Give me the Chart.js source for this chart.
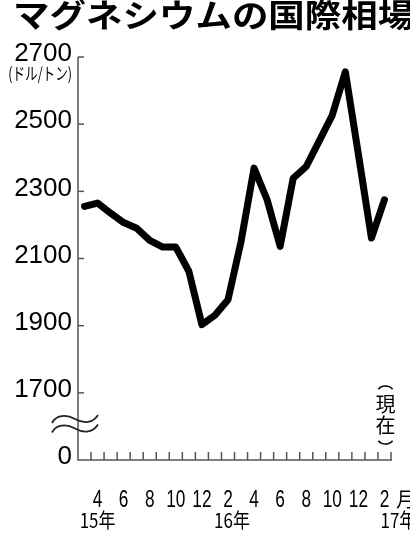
<!DOCTYPE html>
<html>
<head>
<meta charset="utf-8">
<script src="https://cdn.jsdelivr.net/npm/chart.js@4/dist/chart.umd.min.js"></script>
<style>
  html, body { margin: 0; padding: 0; background: #fff; }
  canvas { display: block; }
</style>
</head>
<body>
<canvas id="mg" width="410" height="536"></canvas>
<script>
    // months from Mar 2015 to Feb 2017
    const months = ['3', '4', '5', '6', '7', '8', '9', '10', '11', '12', '1', '2',
                    '3', '4', '5', '6', '7', '8', '9', '10', '11', '12', '1', '2'];
    const prices = [2255, 2265, 2235, 2207, 2190, 2154, 2134, 2134, 2062, 1903, 1931, 1977,
                    2150, 2369, 2275, 2136, 2339, 2374, 2450, 2527, 2656, 2410, 2161, 2275];
    // 1500 is the broken-axis baseline, shown as 0
    const yTicks = [1500, 1700, 1900, 2100, 2300, 2500, 2700];
    const yTickText = ['0', '1700', '1900', '2100', '2300', '2500', '2700'];
    const years = ['15年', '16年', '17年'];
    const yearAt = [1, 11, 23];

    const axisColor = '#555';
    const numFont = 'Liberation Sans, Arial, sans-serif';
    const jpFont = '"Noto Sans CJK JP", sans-serif';

    const decorations = {
      id: 'decorations',
      afterDraw: function(chart) {
        const c = chart.ctx;
        const xs = chart.scales.x;
        const ys = chart.scales.y;
        const area = chart.chartArea;
        c.save();

        // title
        c.save();
        c.fillStyle = '#000';
        c.font = 'bold 32px ' + jpFont;
        c.textBaseline = 'middle';
        c.textAlign = 'left';
        c.translate(13, 15);
        c.scale(1.14, 1);
        c.fillText('マグネシウムの国際相場', 0, 0);
        c.restore();

        // axis lines
        c.strokeStyle = axisColor;
        c.lineWidth = 1.5;
        c.beginPath();
        c.moveTo(area.left, area.top);
        c.lineTo(area.left, area.bottom);
        c.lineTo(area.right + 1, area.bottom);
        c.stroke();

        // y ticks and labels
        c.fillStyle = '#000';
        c.textAlign = 'right';
        c.textBaseline = 'middle';
        c.font = '26px ' + numFont;
        yTicks.forEach(function(v, i) {
          const py = ys.getPixelForValue(v);
          if (i > 0) {
            c.beginPath();
            c.moveTo(area.left, py);
            c.lineTo(area.left + 6, py);
            c.stroke();
          }
          c.fillText(yTickText[i], area.left - 6, py - 3);
        });

        // unit
        c.save();
        c.font = '17px ' + jpFont;
        c.textAlign = 'right';
        c.translate(area.left - 6, 74);
        c.scale(0.74, 1);
        c.fillText('(ドル/トン)', 0, 0);
        c.restore();

        // axis break mark
        c.strokeStyle = '#222';
        c.lineWidth = 1.8;
        [0, 9.5].forEach(function(d) {
          c.beginPath();
          c.moveTo(52, 423 + d);
          c.bezierCurveTo(56, 415 + d, 66, 414 + d, 75, 419 + d);
          c.bezierCurveTo(84, 424 + d, 93, 423 + d, 98, 415 + d);
          c.stroke();
        });

        // x ticks at month boundaries
        const step = xs.getPixelForValue(1) - xs.getPixelForValue(0);
        c.strokeStyle = axisColor;
        c.lineWidth = 1.5;
        for (let i = 1; i <= months.length; i++) {
          const px = xs.getPixelForValue(i) - step / 2;
          c.beginPath();
          c.moveTo(px, area.bottom);
          c.lineTo(px, area.bottom - 8);
          c.stroke();
        }

        // month labels
        c.fillStyle = '#000';
        c.textAlign = 'center';
        c.textBaseline = 'middle';
        months.forEach(function(m, i) {
          if (Number(m) % 2 !== 0) return;
          c.save();
          c.translate(xs.getPixelForValue(i), 500);
          c.scale(0.72, 1);
          c.font = '24px ' + numFont;
          c.fillText(m, 0, 0);
          c.restore();
        });
        c.font = '20px ' + jpFont;
        c.textAlign = 'left';
        c.fillText('月', 396, 499);

        // year labels
        years.forEach(function(y, i) {
          c.save();
          let px = xs.getPixelForValue(yearAt[i]);
          c.textAlign = 'center';
          if (i === years.length - 1) {
            c.textAlign = 'left';
            px -= 4;
          } else if (i === 1) {
            px += 4;
          }
          c.translate(px, 520);
          c.scale(0.85, 1);
          c.font = '20px ' + jpFont;
          c.fillText(y, 0, 0);
          c.restore();
        });

        // (現在) vertical, with drawn parentheses
        const vx = xs.getPixelForValue(months.length - 1) + 1;
        c.textAlign = 'center';
        c.font = '20px ' + jpFont;
        c.fillText('現', vx, 404);
        c.fillText('在', vx, 425);
        c.strokeStyle = '#000';
        c.lineWidth = 1.5;
        c.beginPath();
        c.ellipse(vx, 392, 8, 6, 0, Math.PI * 1.15, Math.PI * 1.85);
        c.stroke();
        c.beginPath();
        c.ellipse(vx, 438, 8, 6, 0, Math.PI * 0.15, Math.PI * 0.85);
        c.stroke();

        c.restore();
      }
    };

    const ctx = document.getElementById('mg').getContext('2d');
    const data = {
      labels: months,
      datasets: [{
        label: 'マグネシウム',
        data: prices,
        borderColor: '#000',
        borderWidth: 7,
        borderJoinStyle: 'round',
        borderCapStyle: 'round',
        pointRadius: 0,
        tension: 0,
        fill: false
      }]
    };
    const options = {
      responsive: false,
      animation: false,
      layout: {
        padding: { left: 78, top: 57, right: 19, bottom: 76 }
      },
      plugins: {
        legend: { display: false },
        tooltip: { enabled: false }
      },
      scales: {
        x: {
          type: 'category',
          offset: true,
          display: false
        },
        y: {
          min: 1500,
          max: 2700,
          display: false
        }
      }
    };
    const mg = new Chart(ctx, {
      type: 'line',
      data: data,
      options: options,
      plugins: [decorations]
    });
</script>
</body>
</html>
